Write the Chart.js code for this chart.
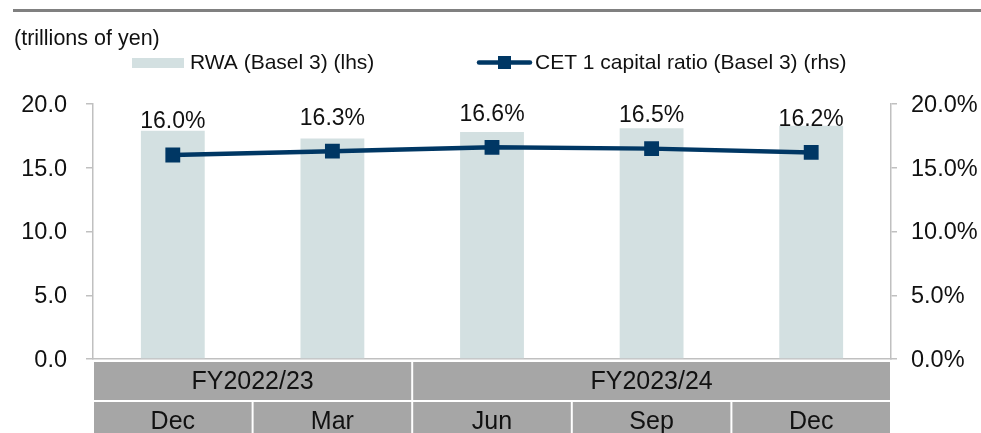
<!DOCTYPE html>
<html>
<head>
<meta charset="utf-8">
<script src="https://cdn.jsdelivr.net/npm/chart.js@4/dist/chart.umd.min.js"></script>
<style>
  html, body { margin: 0; padding: 0; background: #ffffff; }
  #wrap { width: 981px; height: 433px; position: relative; }
</style>
</head>
<body>
<div id="wrap"><canvas id="c" width="981" height="433"></canvas></div>
<script>
// ---- data ----
const categories = ['Dec', 'Mar', 'Jun', 'Sep', 'Dec'];
const fiscalYears = ['FY2022/23', 'FY2023/24'];
const fiscalYearSpans = [2, 3];
const rwaValues = [17.9, 17.3, 17.8, 18.1, 18.3];
const cet1Ratio = [16.0, 16.3, 16.6, 16.5, 16.2];
const unitTitle = '(trillions of yen)';
const rwaLabel = 'RWA (Basel 3) (lhs)';
const cet1Label = 'CET 1 capital ratio (Basel 3) (rhs)';

const FONT = "'Liberation Sans', Arial, sans-serif";
const TEXT = '#111111';
const AXIS = '#c0c0c0';
const BAR = '#d3e0e1';
const LINE = '#003764';
const CELL = '#a6a6a6';

const decorPlugin = {
  id: 'decor',
  afterDatasetsDraw(chart) {
    const ctx = chart.ctx;
    const meta = chart.getDatasetMeta(0);
    ctx.save();
    ctx.fillStyle = TEXT;
    ctx.font = '23px ' + FONT;
    ctx.textAlign = 'center';
    ctx.textBaseline = 'middle';
    meta.data.forEach((pt, i) => {
      ctx.fillText(chart.data.datasets[0].data[i].toFixed(1) + '%', pt.x, pt.y - 33);
    });
    ctx.restore();
  },
  afterDraw(chart) {
    const ctx = chart.ctx;
    const area = chart.chartArea;
    const x = chart.scales.x;
    ctx.save();
    // top rule
    ctx.fillStyle = '#808080';
    ctx.fillRect(13, 9, 968, 3);
    // unit title
    ctx.fillStyle = TEXT;
    ctx.font = '21.5px ' + FONT;
    ctx.textAlign = 'left';
    ctx.textBaseline = 'middle';
    ctx.fillText(unitTitle, 14, 39);
    // legend
    const ds = chart.data.datasets;
    ctx.font = '21px ' + FONT;
    ctx.fillStyle = ds[1].backgroundColor;
    ctx.fillRect(132, 58, 52, 10);
    ctx.fillStyle = TEXT;
    ctx.fillText(ds[1].label, 190, 63);
    ctx.strokeStyle = ds[0].borderColor;
    ctx.lineWidth = 4.5;
    ctx.lineCap = 'round';
    ctx.beginPath();
    ctx.moveTo(479, 62.5);
    ctx.lineTo(530, 62.5);
    ctx.stroke();
    ctx.fillStyle = ds[0].borderColor;
    ctx.fillRect(498, 56, 13, 13);
    ctx.fillStyle = TEXT;
    ctx.fillText(ds[0].label, 535, 63);

    // category table
    const half = (x.getPixelForValue(1) - x.getPixelForValue(0)) / 2;
    const row1Top = area.bottom + 3, rowH = 38;
    const row2Top = row1Top + rowH + 2;
    ctx.textAlign = 'center';
    ctx.textBaseline = 'middle';
    ctx.font = '25px ' + FONT;
    let start = 0;
    fiscalYears.forEach((fy, g) => {
      const span = fiscalYearSpans[g];
      const l = x.getPixelForValue(start) - half + 1;
      const r = x.getPixelForValue(start + span - 1) + half - 1;
      ctx.fillStyle = CELL;
      ctx.fillRect(l, row1Top, r - l, rowH);
      ctx.fillStyle = TEXT;
      ctx.fillText(fy, (l + r) / 2, row1Top + rowH / 2 + 1);
      start += span;
    });
    categories.forEach((c, i) => {
      const cx = x.getPixelForValue(i);
      const l = cx - half + 1, r = cx + half - 1;
      ctx.fillStyle = CELL;
      ctx.fillRect(l, row2Top, r - l, rowH);
      ctx.fillStyle = TEXT;
      ctx.fillText(c, cx, row2Top + rowH / 2 + 1);
    });
    ctx.restore();
  }
};

function fixWidth(w) {
  return function (s) {
    s.width = w;
    s.paddingTop = 0; s.paddingBottom = 0;
  };
}

new Chart(document.getElementById('c'), {
  type: 'bar',
  data: {
    labels: categories,
    datasets: [
      {
        type: 'line',
        label: cet1Label,
        data: cet1Ratio,
        yAxisID: 'y1',
        borderColor: LINE,
        backgroundColor: LINE,
        borderWidth: 4.5,
        pointStyle: 'rect',
        pointRadius: 10.5,
        pointHoverRadius: 10.5,
        pointBackgroundColor: LINE,
        pointBorderColor: LINE,
        pointBorderWidth: 0,
        tension: 0,
        order: 0
      },
      {
        type: 'bar',
        label: rwaLabel,
        data: rwaValues,
        yAxisID: 'y',
        backgroundColor: BAR,
        borderWidth: 0,
        barPercentage: 0.4,
        categoryPercentage: 1.0,
        order: 1
      }
    ]
  },
  options: {
    responsive: false,
    animation: false,
    events: [],
    layout: { padding: { top: 104, left: 1, right: 0, bottom: 0 } },
    plugins: {
      legend: { display: false },
      title: { display: false },
      tooltip: { enabled: false }
    },
    scales: {
      x: {
        offset: true,
        grid: { display: false },
        border: { display: true, color: AXIS, width: 1.5 },
        ticks: { display: false },
        afterFit(s) { s.height = 74; s.paddingLeft = 0; s.paddingRight = 0; }
      },
      y: {
        position: 'left',
        min: 0, max: 20,
        ticks: {
          stepSize: 5,
          callback: v => v.toFixed(1),
          font: { family: FONT, size: 23.5 },
          color: TEXT,
          padding: 19,
          labelOffset: 1.5
        },
        grid: { display: true, drawOnChartArea: false, drawTicks: true, tickLength: 7, color: AXIS, lineWidth: 1.5 },
        border: { display: true, color: AXIS, width: 1.5 },
        afterFit: fixWidth(92)
      },
      y1: {
        position: 'right',
        min: 0, max: 20,
        ticks: {
          stepSize: 5,
          callback: v => v.toFixed(1) + '%',
          font: { family: FONT, size: 23.5 },
          color: TEXT,
          padding: 14,
          labelOffset: 1.5
        },
        grid: { display: true, drawOnChartArea: false, drawTicks: true, tickLength: 6, color: AXIS, lineWidth: 1.5 },
        border: { display: true, color: AXIS, width: 1.5 },
        afterFit: fixWidth(90)
      }
    }
  },
  plugins: [decorPlugin]
});
</script>
</body>
</html>
